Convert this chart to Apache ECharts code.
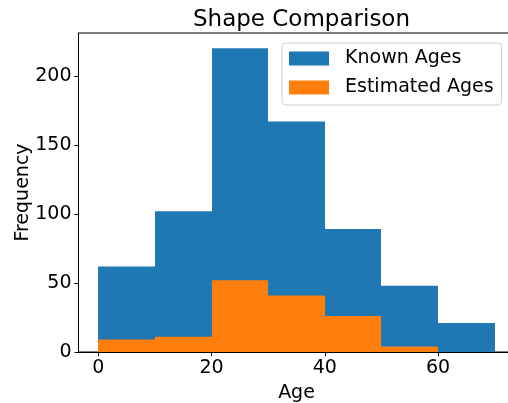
<!DOCTYPE html>
<html>
<head>
<meta charset="utf-8">
<script src="https://cdn.jsdelivr.net/npm/echarts@6/dist/echarts.min.js"></script>
<style>html,body{margin:0;padding:0;background:#fff}#c{width:508px;height:403px}</style>
</head>
<body>
<div id="c"></div>
<script>
const binEdges = [0, 10, 20, 30, 40, 50, 60, 70];
const knownAges = [62, 102, 220, 167, 89, 48, 21];
const estimatedAges = [9, 11, 52, 41, 26, 4, 0];
const xTicks = [0, 20, 40, 60];
const yTicks = [0, 50, 100, 150, 200];
const seriesNames = ['Known Ages', 'Estimated Ages'];
const colors = ['#1f77b4', '#ff7f0e'];

function toBins(vals) {
  return vals.map((v, i) => [binEdges[i], binEdges[i + 1], v]);
}
function renderItem(params, api) {
  const p0 = api.coord([api.value(0), api.value(2)]);
  const p1 = api.coord([api.value(1), 0]);
  const x0 = Math.round(p0[0]), x1 = Math.round(p1[0]);
  return {
    type: 'rect',
    shape: { x: x0, y: p0[1], width: x1 - x0, height: p1[1] - p0[1] },
    style: { fill: api.visual('color') }
  };
}
const FONT = 'DejaVu Sans';
const chart = echarts.init(document.getElementById('c'), null, { renderer: 'canvas' });
chart.setOption({
  animation: false,
  color: colors,
  title: {
    text: 'Shape Comparison', left: 296.5, top: 4, textAlign: 'center',
    textStyle: { fontFamily: FONT, fontSize: 23, fontWeight: 'normal', color: '#000' }
  },
  legend: {
    orient: 'vertical', left: 282, top: 43,
    padding: [6, 8, 8, 7], itemGap: 10, itemWidth: 40, itemHeight: 14,
    borderColor: '#d0d0d0', borderWidth: 1, borderRadius: 4, backgroundColor: 'rgba(255,255,255,0.8)',
    icon: 'rect',
    data: seriesNames,
    textStyle: { fontFamily: FONT, fontSize: 19, color: '#000', lineHeight: 19, padding: [0, 0, 0, 11] }
  },
  grid: { left: 78.5, right: -6.5, top: 33, bottom: 51, show: true, borderColor: '#000', borderWidth: 1, containLabel: false, outerBoundsMode: 'none' },
  xAxis: {
    type: 'value', min: -3.5, max: 73.5,
    name: 'Age', nameLocation: 'middle', nameGap: 32, nameMoveOverlap: false,
    nameTextStyle: { fontFamily: FONT, fontSize: 19, color: '#000' },
    axisLine: { show: true, onZero: false, lineStyle: { color: '#000', width: 1 } },
    axisTick: { show: true, length: 4, customValues: xTicks, lineStyle: { color: '#000' } },
    axisLabel: { customValues: xTicks, margin: 7, fontFamily: FONT, fontSize: 19, color: '#000' },
    splitLine: { show: false }
  },
  yAxis: {
    type: 'value', min: 0, max: 231,
    name: 'Frequency', nameLocation: 'middle', nameGap: 46, nameMoveOverlap: false,
    nameTextStyle: { fontFamily: FONT, fontSize: 19, color: '#000' },
    axisLine: { show: true, onZero: false, lineStyle: { color: '#000', width: 1 } },
    axisTick: { show: true, length: 4, customValues: yTicks, lineStyle: { color: '#000' } },
    axisLabel: { customValues: yTicks, margin: 7, fontFamily: FONT, fontSize: 19, color: '#000' },
    splitLine: { show: false }
  },
  series: [
    { name: seriesNames[0], type: 'custom', renderItem: renderItem, data: toBins(knownAges), encode: { x: [0, 1], y: 2 } },
    { name: seriesNames[1], type: 'custom', renderItem: renderItem, data: toBins(estimatedAges), encode: { x: [0, 1], y: 2 } }
  ]
});
</script>
</body>
</html>
